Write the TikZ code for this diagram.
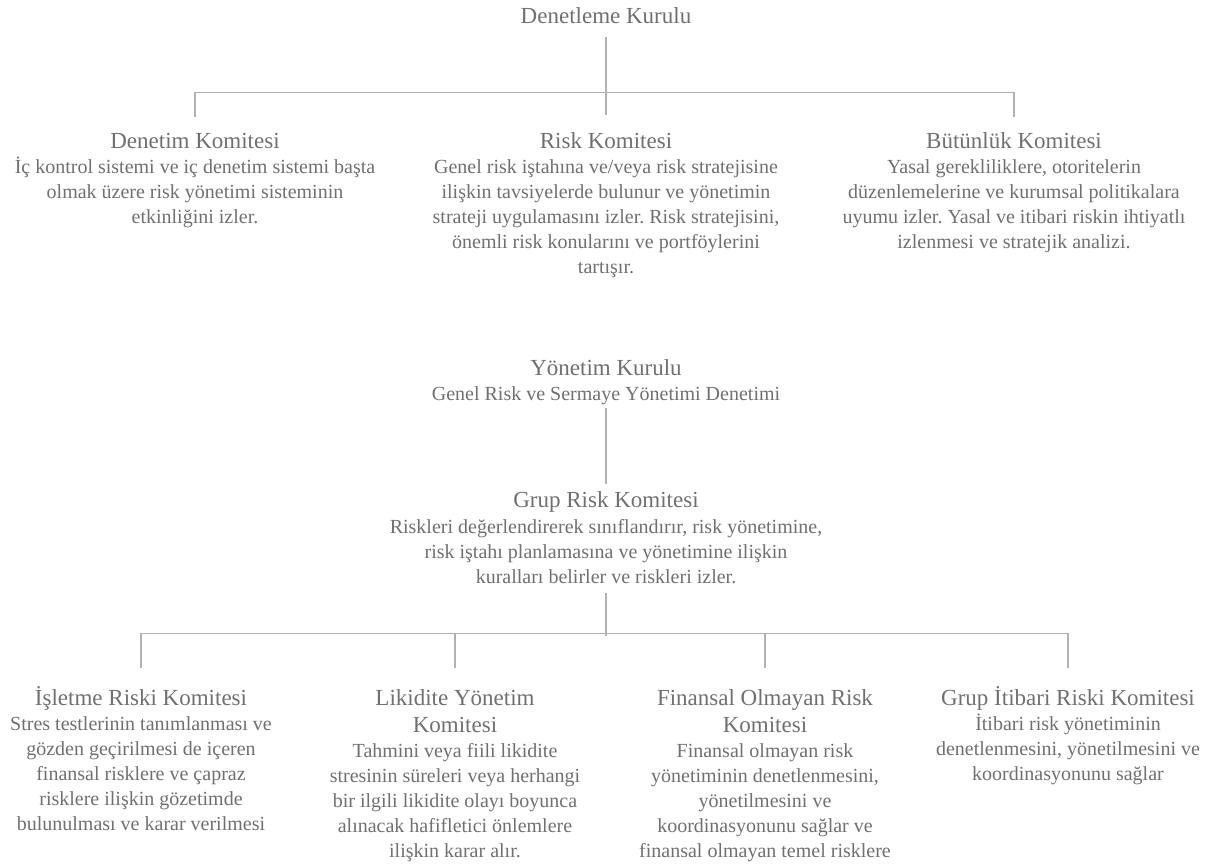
\documentclass[tikz,border=0pt]{standalone}
\usepackage{fontspec}
\setmainfont{Liberation Serif}
\frenchspacing
\usetikzlibrary{positioning,calc}
\definecolor{yazi}{RGB}{112,112,112}
\definecolor{hat}{RGB}{178,178,178}
\tikzset{
  baslik/.style={anchor=north,inner sep=0pt,text=yazi,align=center,font=\fontsize{23}{27}\selectfont},
  metin/.style={anchor=north,inner sep=0pt,text=yazi,align=center,font=\fontsize{20}{25}\selectfont},
  cizgi/.style={draw=hat,line width=1.2pt}
}
\begin{document}
\begin{tikzpicture}[x=1pt,y=-1pt]
        \useasboundingbox (0,0) rectangle (1212,865);
        % ust kurul
        \node[baslik] (dk) at (606,4.1) {\strut Denetleme Kurulu};
        \node[baslik] (denetim) at (195,129.1) {\strut Denetim Komitesi};
        \node[baslik] (risk) at (606,129.1) {\strut Risk Komitesi};
        \node[baslik] (butun) at (1014,129.1) {\strut Bütünlük Komitesi};
        \node[metin] (denetimm) at (195,155.5) {\strut İç kontrol sistemi ve iç denetim sistemi başta\\olmak üzere risk yönetimi sisteminin\\etkinliğini izler.};
        \node[metin] (riskm) at (606,155.5) {\strut Genel risk iştahına ve/veya risk stratejisine\\ilişkin tavsiyelerde bulunur ve yönetimin\\strateji uygulamasını izler. Risk stratejisini,\\önemli risk konularını ve portföylerini\\tartışır.};
        \node[metin] (butunm) at (1014,155.5) {\strut Yasal gerekliliklere, otoritelerin\\düzenlemelerine ve kurumsal politikalara\\uyumu izler. Yasal ve itibari riskin ihtiyatlı\\izlenmesi ve stratejik analizi.};
        \draw[cizgi] ([yshift=-5pt]dk.south) -- ([yshift=14pt]risk.north);
        \draw[cizgi] ([yshift=12pt]denetim.north) |- ([yshift=37pt]butun.north) -- ([yshift=12pt]butun.north);
        % yonetim kurulu
        \node[baslik] (yk) at (606,356.1) {\strut Yönetim Kurulu};
        \node[metin] (ykm) at (606,382.5) {\strut Genel Risk ve Sermaye Yönetimi Denetimi\strut};
        \node[baslik] (grk) at (606,488.1) {\strut Grup Risk Komitesi};
        \node[metin] (grkm) at (606,515.5) {\strut Riskleri değerlendirerek sınıflandırır, risk yönetimine,\\risk iştahı planlamasına ve yönetimine ilişkin\\kuralları belirler ve riskleri izler.\strut};
        \draw[cizgi] (ykm.south) -- ([yshift=4pt]grk.north);
        % alt komiteler
        \node[baslik] (isl) at (141,686.1) {\strut İşletme Riski Komitesi};
        \node[baslik] (lik) at (455,686.1) {\strut Likidite Yönetim\\Komitesi};
        \node[baslik] (fin) at (765,686.1) {\strut Finansal Olmayan Risk\\Komitesi};
        \node[baslik] (itb) at (1068,686.1) {\strut Grup İtibari Riski Komitesi};
        \node[metin] (islm) at (141,712.5) {\strut Stres testlerinin tanımlanması ve\\gözden geçirilmesi de içeren\\finansal risklere ve çapraz\\risklere ilişkin gözetimde\\bulunulması ve karar verilmesi};
        \node[metin] (likm) at (455,739.5) {\strut Tahmini veya fiili likidite\\stresinin süreleri veya herhangi\\bir ilgili likidite olayı boyunca\\alınacak hafifletici önlemlere\\ilişkin karar alır.};
        \node[metin] (finm) at (765,739.5) {\strut Finansal olmayan risk\\yönetiminin denetlenmesini,\\yönetilmesini ve\\koordinasyonunu sağlar ve\\finansal olmayan temel risklere};
        \node[metin] (itbm) at (1068,712.5) {\strut İtibari risk yönetiminin\\denetlenmesini, yönetilmesini ve\\koordinasyonunu sağlar};
        \draw[cizgi] ([yshift=-2.5pt]grkm.south) -- ($(grkm.south |- isl.north)+(0,-50)$);
        \draw[cizgi] ([yshift=18pt]isl.north) |- ([yshift=53pt]itb.north) -- ([yshift=18pt]itb.north);
        \foreach \k in {lik,fin}
        {
            \draw[cizgi] ([yshift=18pt]\k.north) -- ([yshift=53pt]\k.north);
        }
\end{tikzpicture}
\end{document}
